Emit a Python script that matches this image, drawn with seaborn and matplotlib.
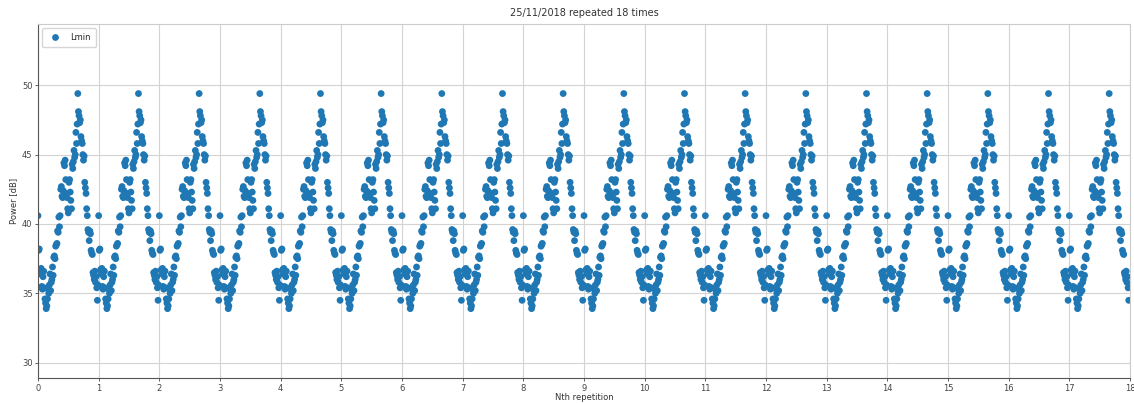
import numpy as np
import pandas as pd
import matplotlib
matplotlib.use("Agg")
import matplotlib.pyplot as plt
import seaborn as sns

# One day's profile (25/11/2018), Lmin in dB
day_values = [
    40.6, 38.1, 38.2, 36.7, 36.4, 36.8, 35.5, 35.3, 36.2, 36.6,
    35.4, 34.6, 34.3, 33.9, 34.1, 34.6, 35.3, 35.0, 35.6, 36.4,
    35.2, 35.8, 36.0, 36.9, 36.3, 37.6, 37.7, 37.5, 38.4, 38.5,
    38.6, 39.5, 39.4, 40.5, 39.8, 40.6, 42.5, 42.7, 42.0, 41.9,
    42.4, 44.4, 44.2, 44.6, 43.2, 42.2, 41.9, 41.1, 40.8, 43.0,
    43.2, 42.3, 41.7, 41.1, 44.3, 44.0, 44.5, 45.3, 44.8, 45.0,
    46.6, 45.8, 47.2, 49.4, 48.1, 47.8, 47.3, 47.5, 46.3, 46.0,
    45.8, 45.0, 44.6, 44.9, 43.0, 42.6, 42.2, 41.1, 40.6, 39.6,
    39.4, 38.8, 39.5, 39.3, 38.1, 37.9, 37.8, 36.5, 36.3, 36.0,
    36.6, 35.8, 36.2, 35.4, 34.5, 35.6,
]
n_repeats = 18
title = "25/11/2018 repeated 18 times"
series_name = "Lmin"
x_ticks = list(range(0, 19))
y_ticks = [30, 35, 40, 45, 50]

n = len(day_values)
values = np.tile(np.array(day_values), n_repeats)
xs = np.arange(len(values)) / n
df = pd.DataFrame({"x": xs, "Power": values, "series": series_name})

sns.set_style("ticks")
plt.rcParams["font.family"] = ["DejaVu Sans"]

fig = plt.figure(figsize=(11.34, 4.03), dpi=100)
ax = fig.add_axes([0.0335, 0.062, 0.963, 0.878])
sns.scatterplot(data=df, x="x", y="Power", hue="series", palette=["#1f77b4"],
                s=24, linewidth=0, ax=ax)

ax.set_xlim(0, 18)
ax.set_ylim(28.9, 54.4)
ax.set_xticks(x_ticks)
ax.set_yticks(y_ticks)
ax.grid(True, color="#d3d3d3", linewidth=0.8)
ax.set_axisbelow(True)
ax.tick_params(labelsize=6, colors="#444444", length=2.5, width=0.6, pad=1.5)
for side in ["top", "right"]:
    ax.spines[side].set_color("#cccccc")
    ax.spines[side].set_linewidth(0.8)
for side in ["left", "bottom"]:
    ax.spines[side].set_color("#555555")
    ax.spines[side].set_linewidth(0.8)
ax.set_title(title, fontsize=7, color="#333333", pad=6)
ax.set_xlabel("Nth repetition", fontsize=6, color="#333333", labelpad=0.5)
ax.set_ylabel("Power [dB]", fontsize=6, color="#333333", labelpad=3)
leg = ax.legend(loc="upper left", fontsize=6, frameon=True, markerscale=1.0,
                borderpad=0.6, handletextpad=0.8)
leg.get_frame().set_edgecolor("#cccccc")

fig.savefig("out.png", dpi=100)
